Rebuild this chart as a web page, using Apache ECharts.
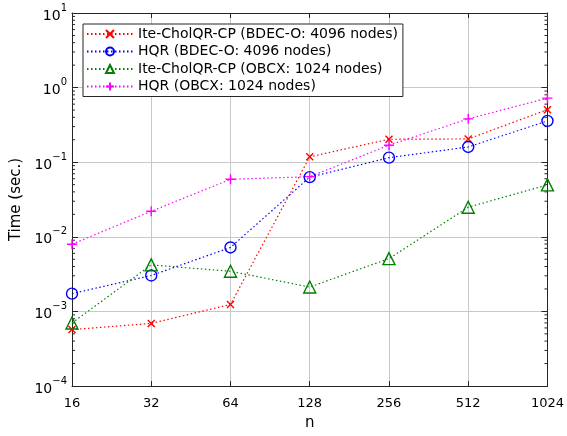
<!DOCTYPE html>
<html>
<head>
<meta charset="utf-8">
<script src="https://cdn.jsdelivr.net/npm/echarts@6/dist/echarts.min.js"></script>
<style>
  html, body { margin: 0; padding: 0; background: #fff; }
  #chart { width: 567px; height: 436px; }
</style>
</head>
<body>
<div id="chart"></div>
<script>
const chart = echarts.init(document.getElementById('chart'));

const sizes = ['16', '32', '64', '128', '256', '512', '1024'];

const names = [
  'Ite-CholQR-CP (BDEC-O: 4096 nodes)',
  'HQR (BDEC-O: 4096 nodes)',
  'Ite-CholQR-CP (OBCX: 1024 nodes)',
  'HQR (OBCX: 1024 nodes)'
];

const cholBdec = [5.7e-4, 6.9e-4, 1.24e-3, 0.118, 0.203, 0.205, 0.506];
const hqrBdec = [1.73e-3, 3.03e-3, 7.2e-3, 0.063, 0.115, 0.160, 0.358];
const cholObcx = [7.0e-4, 4.2e-3, 3.45e-3, 2.12e-3, 5.1e-3, 0.0249, 0.0497];
const hqrObcx = [7.96e-3, 0.022, 0.059, 0.064, 0.169, 0.381, 0.723];

// log-axis minor ticks (2..9 in each decade)
const decades = [1e-4, 1e-3, 1e-2, 1e-1, 1];
const minorSteps = [2, 3, 4, 5, 6, 7, 8, 9];

const font = '"DejaVu Sans", sans-serif';

const crossPath = 'path://M0,0L10,10M10,0L0,10';
const plusPath = 'path://M5,0L5,10M0,5L10,5';

function makeSeries(name, data, color, symbol, size) {
  const stroke = symbol.indexOf('path://') === 0;
  return {
    name: name,
    type: 'line',
    data: data,
    symbol: symbol,
    symbolSize: size,
    showAllSymbol: true,
    lineStyle: { color: color, width: 1.2, type: [1.5, 2.5] },
    itemStyle: {
      color: stroke ? color : 'rgba(255,255,255,0)',
      borderColor: color,
      borderWidth: 1.4
    },
    emphasis: { disabled: true },
    z: 3
  };
}

const minorTicks = [];
decades.forEach(function (d) {
  minorSteps.forEach(function (m) {
    minorTicks.push([0, d * m]);
  });
});

const supLabel = function (v) {
  const e = Math.round(Math.log10(v));
  const s = e < 0 ? '\u2212' + (-e) : String(e);
  return '{b|10}{e|' + s + '}';
};

const yAxisBase = {
  type: 'log',
  logBase: 10,
  min: 1e-4,
  max: 10,
  axisLine: { show: true, lineStyle: { color: '#262626', width: 1 } },
  axisTick: { show: true, inside: true, length: 6, lineStyle: { color: '#262626' } }
};

const option = {
  backgroundColor: '#fff',
  animation: false,
  textStyle: { fontFamily: font },
  grid: { left: 72, right: 18, top: 13, bottom: 46 },
  legend: {
    data: names,
    orient: 'vertical',
    left: 83,
    top: 24,
    padding: [3, 5, 3, 3],
    itemGap: 3.5,
    itemWidth: 46,
    itemHeight: 10,
    borderColor: '#262626',
    borderWidth: 1,
    backgroundColor: '#fff',
    textStyle: { fontFamily: font, fontSize: 14, color: '#000' }
  },
  xAxis: [{
    type: 'category',
    data: sizes,
    boundaryGap: false,
    name: 'n',
    nameLocation: 'middle',
    nameGap: 30,
    nameTextStyle: { fontFamily: font, fontSize: 15, color: '#000' },
    axisLine: { show: true, lineStyle: { color: '#262626' } },
    axisTick: { show: true, inside: true, length: 5, lineStyle: { color: '#262626' } },
    axisLabel: { fontFamily: font, fontSize: 13, color: '#000', margin: 11 },
    splitLine: { show: true, lineStyle: { color: '#c8c8c8', width: 1 } }
  }, {
    type: 'category',
    data: sizes,
    boundaryGap: false,
    position: 'top',
    axisLine: { show: true, lineStyle: { color: '#262626' } },
    axisTick: { show: true, inside: true, length: 5, lineStyle: { color: '#262626' } },
    axisLabel: { show: false },
    splitLine: { show: false }
  }],
  yAxis: [Object.assign({}, yAxisBase, {
    position: 'left',
    name: 'Time (sec.)',
    nameLocation: 'middle',
    nameGap: 37,
    nameTextStyle: { fontFamily: font, fontSize: 15, color: '#000' },
    axisLabel: {
      formatter: supLabel,
      margin: 5,
      rich: {
        b: { fontFamily: font, fontSize: 14, color: '#000', padding: [6, 0, 0, 0] },
        e: { fontFamily: font, fontSize: 10, color: '#000', verticalAlign: 'top', padding: [0, 0, 6, 0] }
      }
    },
    splitLine: { show: true, lineStyle: { color: '#c8c8c8', width: 1 } }
  }), Object.assign({}, yAxisBase, {
    position: 'right',
    axisLabel: { show: false },
    splitLine: { show: false }
  })],
  series: [
    makeSeries(names[0], cholBdec, '#ff0000', crossPath, 7),
    makeSeries(names[1], hqrBdec, '#0000ff', 'circle', 11),
    makeSeries(names[2], cholObcx, '#008000', 'triangle', 12),
    makeSeries(names[3], hqrObcx, '#ff00ff', plusPath, 10),
    {
      type: 'custom',
      name: 'minorTicks',
      data: minorTicks,
      silent: true,
      z: 1,
      renderItem: function (params, api) {
        const y = api.coord([api.value(0), api.value(1)])[1];
        const cs = params.coordSys;
        const style = { stroke: '#262626', lineWidth: 1 };
        return {
          type: 'group',
          children: [
            { type: 'line', shape: { x1: cs.x, y1: y, x2: cs.x + 3, y2: y }, style: style },
            { type: 'line', shape: { x1: cs.x + cs.width - 3, y1: y, x2: cs.x + cs.width, y2: y }, style: style }
          ]
        };
      }
    }
  ]
};

chart.setOption(option);
</script>
</body>
</html>
